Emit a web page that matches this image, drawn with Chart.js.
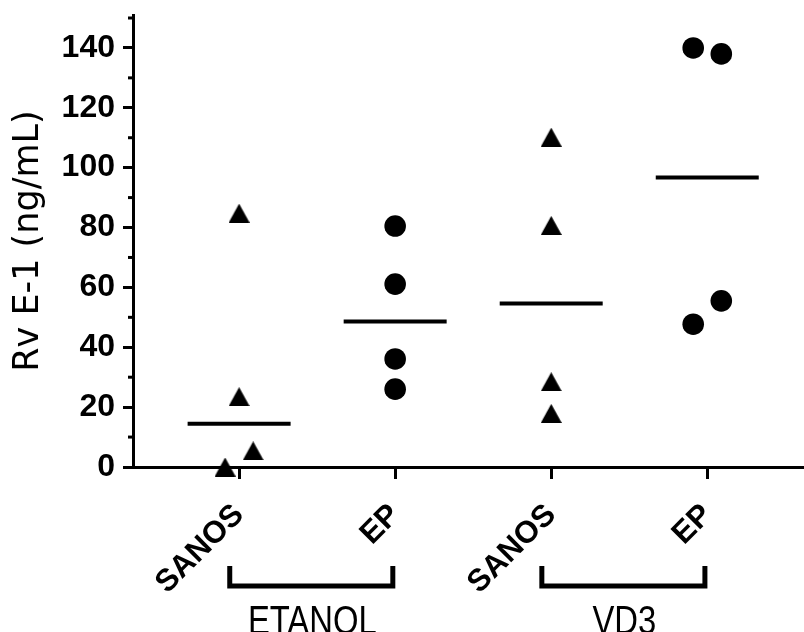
<!DOCTYPE html>
<html>
<head>
<meta charset="utf-8">
<script src="https://cdn.jsdelivr.net/npm/chart.js@4.4.1/dist/chart.umd.min.js"></script>
<style>
  html, body { margin: 0; padding: 0; background: #fff; }
  #wrap { width: 804px; height: 632px; }
</style>
</head>
<body>
<div id="wrap"><canvas id="chart" width="804" height="632"></canvas></div>
<script>
const categories = ["SANOS", "EP", "SANOS", "EP"];
const groupLabels = ["ETANOL", "VD3"];
const groupSpans = [[1, 2], [3, 4]];
const yTicks = [0, 20, 40, 60, 80, 100, 120, 140];

// Rv E-1 (ng/mL) per group
const etanolSanos = [84.8, 23.5, 5.4, 0];
const etanolEp = [80.5, 61.1, 36.1, 26];
const vd3Sanos = [110.2, 80.7, 28.5, 17.9];
const vd3Ep = [140, 138, 55.5, 47.7];

// horizontal spread of the dots inside each column (category units)
const etanolSanosJitter = [0, 0, 0.09, -0.09];
const etanolEpJitter = [0, 0, 0, 0];
const vd3SanosJitter = [0, 0, 0, 0];
const vd3EpJitter = [-0.09, 0.09, 0.09, -0.09];

// triangle symbol centred on its box, like the original plotting program does
const tri = document.createElement("canvas");
tri.width = 21;
tri.height = 19;
const tctx = tri.getContext("2d");
tctx.fillStyle = "#000";
tctx.beginPath();
tctx.moveTo(10.5, 0);
tctx.lineTo(21, 19);
tctx.lineTo(0, 19);
tctx.closePath();
tctx.fill();

const series = [
  { values: etanolSanos, jitter: etanolSanosJitter, style: tri },
  { values: etanolEp, jitter: etanolEpJitter, style: "circle" },
  { values: vd3Sanos, jitter: vd3SanosJitter, style: tri },
  { values: vd3Ep, jitter: vd3EpJitter, style: "circle" },
];

function median(arr) {
  const s = [...arr].sort((a, b) => a - b);
  const m = Math.floor(s.length / 2);
  return s.length % 2 ? s[m] : (s[m - 1] + s[m]) / 2;
}

const datasets = [];
series.forEach((s, i) => {
  const cx = i + 1;
  datasets.push({
    type: "scatter",
    data: s.values.map((v, j) => ({ x: cx + s.jitter[j], y: v })),
    pointStyle: s.style,
    pointRadius: 10.8,
    backgroundColor: "#000",
    borderColor: "#000",
    borderWidth: 0,
    clip: false,
  });
  const med = median(s.values);
  datasets.push({
    type: "line",
    data: [{ x: cx - 0.33, y: med }, { x: cx + 0.33, y: med }],
    borderColor: "#000",
    borderWidth: 4,
    pointRadius: 0,
    borderCapStyle: "butt",
  });
});

const extras = {
  id: "extras",
  afterDraw(chart) {
    const { ctx, chartArea, scales: { x, y } } = chart;
    ctx.save();
    ctx.strokeStyle = "#000";
    ctx.fillStyle = "#000";

    // minor ticks on the y axis
    ctx.lineWidth = 3;
    for (let v = 10; v < y.max; v += 20) {
      const py = y.getPixelForValue(v);
      ctx.beginPath();
      ctx.moveTo(chartArea.left - 5, py);
      ctx.lineTo(chartArea.left, py);
      ctx.stroke();
    }

    // group brackets + labels
    ctx.lineWidth = 5;
    ctx.lineJoin = "miter";
    groupSpans.forEach(([a, b], i) => {
      const x1 = x.getPixelForValue(a - 0.06);
      const x2 = x.getPixelForValue(b - 0.015);
      ctx.beginPath();
      ctx.moveTo(x1, 566);
      ctx.lineTo(x1, 586);
      ctx.lineTo(x2, 586);
      ctx.lineTo(x2, 566);
      ctx.stroke();
      ctx.save();
      ctx.translate((x1 + x2) / 2 + 1, 634);
      ctx.scale(0.82, 1);
      ctx.font = "40px 'Liberation Sans', Arial, sans-serif";
      ctx.textAlign = "center";
      ctx.textBaseline = "alphabetic";
      ctx.fillText(groupLabels[i], 0, 0);
      ctx.restore();
    });
    ctx.restore();
  }
};

new Chart(document.getElementById("chart"), {
  data: { datasets },
  options: {
    responsive: false,
    animation: false,
    devicePixelRatio: 1,
    layout: { autoPadding: false, padding: { top: 15, left: 0, right: 0, bottom: 0 } },
    plugins: { legend: { display: false }, tooltip: { enabled: false } },
    scales: {
      x: {
        type: "linear",
        min: 0.32,
        max: 4.62,
        afterBuildTicks: (scale) => { scale.ticks = categories.map((_, i) => ({ value: i + 1 })); },
        afterFit: (scale) => {
          scale.height = 165;
          scale.paddingLeft = 0;
          scale.paddingRight = 0;
        },
        grid: { drawOnChartArea: false, tickLength: 12, tickWidth: 3, tickColor: "#000" },
        border: { display: true, color: "#000", width: 3 },
        ticks: {
          autoSkip: false,
          minRotation: 45,
          maxRotation: 45,
          padding: 18,
          color: "#000",
          font: { family: "'Liberation Sans', Arial, sans-serif", size: 31, weight: "bold" },
          callback: (v, i) => categories[i],
        },
      },
      y: {
        min: 0,
        max: 151,
        afterBuildTicks: (scale) => { scale.ticks = yTicks.map(v => ({ value: v })); },
        afterFit: (scale) => {
          scale.width = 133;
          scale.paddingTop = 0;
          scale.paddingBottom = 0;
        },
        grid: { drawOnChartArea: false, tickLength: 10, tickWidth: 3, tickColor: "#000" },
        border: { display: true, color: "#000", width: 3 },
        ticks: {
          padding: 8,
          color: "#000",
          font: { family: "'Liberation Sans', Arial, sans-serif", size: 32, weight: "bold" },
        },
        title: {
          display: true,
          text: "Rv E-1 (ng/mL)",
          color: "#000",
          padding: { top: 8, bottom: 0 },
          font: { family: "'DejaVu Sans', sans-serif", size: 35 },
        },
      },
    },
  },
  plugins: [extras],
});
</script>
</body>
</html>
